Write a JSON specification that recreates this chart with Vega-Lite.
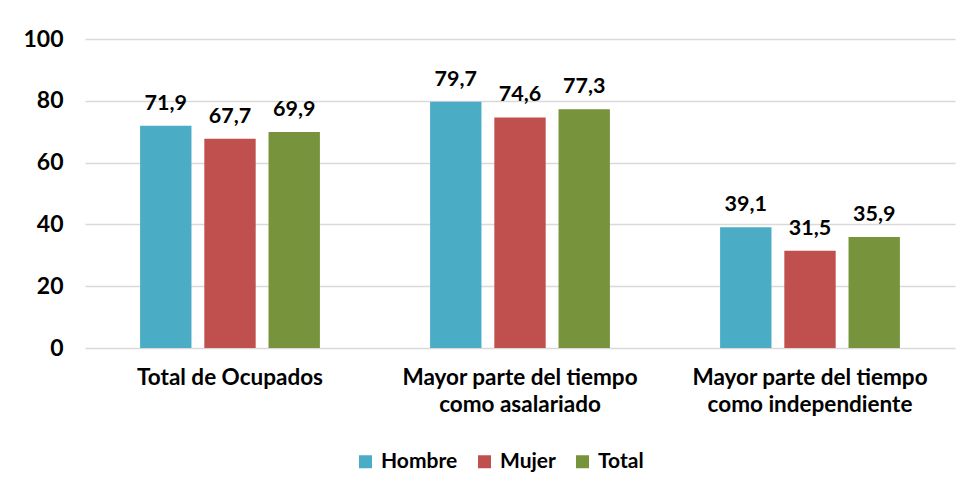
{
  "$schema": "https://vega.github.io/schema/vega-lite/v6.json",
  "width": 870,
  "height": 309,
  "autosize": {"type": "none"},
  "padding": {"left": 85, "top": 39, "right": 15, "bottom": 146},
  "background": "white",
  "config": {
    "locale": {"number": {"decimal": ",", "thousands": ".", "grouping": [3], "currency": ["", " €"]}},
    "view": {"stroke": null},
    "font": "Lato"
  },
  "data": {
    "values": [
      {"categoria": "Total de Ocupados", "sexo": "Hombre", "valor": 71.9},
      {"categoria": "Total de Ocupados", "sexo": "Mujer", "valor": 67.7},
      {"categoria": "Total de Ocupados", "sexo": "Total", "valor": 69.9},
      {"categoria": "Mayor parte del tiempo|como asalariado", "sexo": "Hombre", "valor": 79.7},
      {"categoria": "Mayor parte del tiempo|como asalariado", "sexo": "Mujer", "valor": 74.6},
      {"categoria": "Mayor parte del tiempo|como asalariado", "sexo": "Total", "valor": 77.3},
      {"categoria": "Mayor parte del tiempo|como independiente", "sexo": "Hombre", "valor": 39.1},
      {"categoria": "Mayor parte del tiempo|como independiente", "sexo": "Mujer", "valor": 31.5},
      {"categoria": "Mayor parte del tiempo|como independiente", "sexo": "Total", "valor": 35.9}
    ]
  },
  "encoding": {
    "x": {
      "field": "categoria",
      "type": "nominal",
      "sort": null,
      "title": null,
      "scale": {"paddingInner": 0.38, "paddingOuter": 0.19},
      "axis": {
        "labelAngle": 0,
        "labelExpr": "split(datum.value, '|')",
        "labelFont": "Lato",
        "labelFontSize": 22.5,
        "labelFontWeight": "bold",
        "labelColor": "#000000",
        "labelLimit": 0,
        "labelPadding": 18,
        "labelLineHeight": 27,
        "ticks": false,
        "domain": false,
        "grid": false
      }
    },
    "xOffset": {"field": "sexo", "type": "nominal", "scale": {"paddingInner": 0.2, "paddingOuter": 0}},
    "y": {
      "field": "valor",
      "type": "quantitative",
      "title": null,
      "scale": {"domain": [0, 100]},
      "axis": {
        "values": [0, 20, 40, 60, 80, 100],
        "labelFont": "Lato",
        "labelFontSize": 23,
        "labelFontWeight": "bold",
        "labelColor": "#000000",
        "labelPadding": 22,
        "ticks": false,
        "domain": false,
        "gridColor": "#d9d9d9",
        "gridWidth": 1.5
      }
    }
  },
  "layer": [
    {
      "mark": {"type": "bar"},
      "encoding": {
        "color": {
          "field": "sexo",
          "type": "nominal",
          "title": null,
          "scale": {"domain": ["Hombre", "Mujer", "Total"], "range": ["#4bacc6", "#c0504d", "#77933c"]},
          "legend": {
            "orient": "none",
            "legendX": 270,
            "legendY": 412,
            "direction": "horizontal",
            "symbolType": "square",
            "symbolSize": 169,
            "symbolStrokeWidth": 0,
            "labelFont": "Lato",
            "labelFontSize": 21,
            "labelFontWeight": "bold",
            "labelColor": "#000000",
            "columnPadding": 16,
            "labelOffset": 5
          }
        }
      }
    },
    {
      "mark": {"type": "text", "dy": -11, "baseline": "bottom", "fontSize": 21.5, "fontWeight": "bold", "font": "Lato", "color": "#000000"},
      "encoding": {
        "text": {"field": "valor", "type": "quantitative", "format": ".1f"}
      }
    }
  ]
}
